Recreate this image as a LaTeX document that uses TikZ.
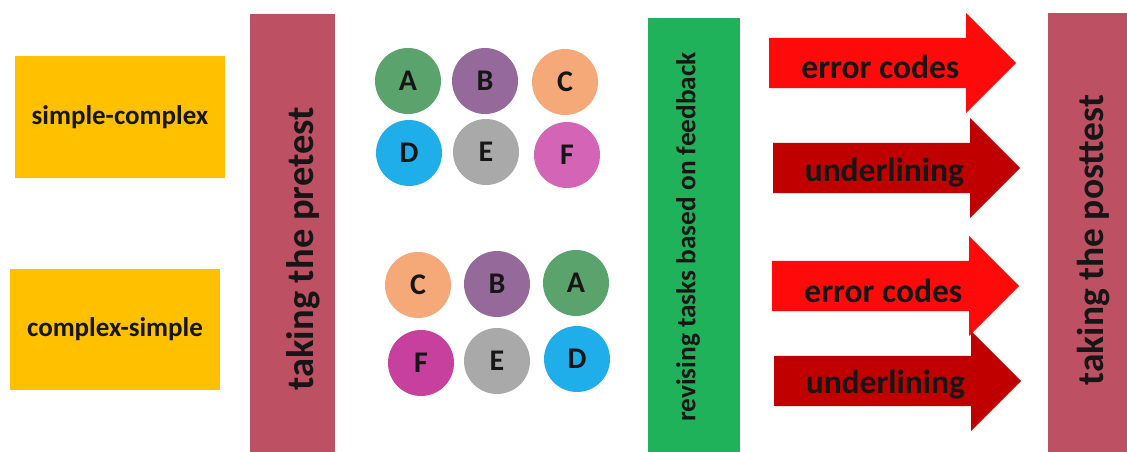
\documentclass[tikz,border=0pt]{standalone}
\usepackage{fontspec}
\setmainfont{Carlito}
\usetikzlibrary{shapes.arrows, calc}

\definecolor{grpyellow}{HTML}{FFC000}
\definecolor{testred}{HTML}{BD5163}
\definecolor{revgreen}{HTML}{1FB25A}
\definecolor{brightred}{HTML}{FF0A0A}
\definecolor{darkred}{HTML}{C00000}
\definecolor{cA}{HTML}{5BA36C}
\definecolor{cB}{HTML}{95699A}
\definecolor{cC}{HTML}{F5A878}
\definecolor{cD}{HTML}{1FAEEA}
\definecolor{cE}{HTML}{A9A9A9}
\definecolor{cFtop}{HTML}{D465B6}
\definecolor{cFbot}{HTML}{C7409D}
\definecolor{txt}{HTML}{161616}

\begin{document}
\begin{tikzpicture}[
        x=1pt, y=-1pt,
        grp/.style={rectangle, fill=grpyellow, minimum width=210pt,
                    minimum height=121pt, text=txt,
                    font=\fontsize{27}{30}\selectfont\bfseries},
        bar/.style={rectangle, anchor=north west, inner sep=0pt},
        vlbl/.style={rotate=90, text=txt, inner sep=0pt},
        ball/.style={circle, minimum size=66pt, inner sep=0pt, text=txt,
                     font=\fontsize{30}{33}\selectfont\bfseries},
        blockarr/.style={shape=single arrow, single arrow head extend=25pt,
                         inner xsep=0pt, inner ysep=25pt, anchor=tail},
        albl/.style={text=txt, inner sep=0pt,
                     font=\fontsize{33.5}{37}\selectfont\bfseries},
    ]
    \useasboundingbox (0,0) rectangle (1127,452);

    % groups
    \node[grp] (sc) at (120,117) {simple-complex};
    \node[grp] (cs) at (115,329.5) {complex-simple};

    % pretest
    \node[bar, fill=testred, minimum width=85pt, minimum height=438pt] (pre) at (250,14) {};
    \node[vlbl, font=\fontsize{38.5}{42}\selectfont\bfseries] (preL) at (303,249) {taking the pretest};

    % tasks, first order
    \node[ball, fill=cA] (tA) at (408,81) {A};
    \node[ball, fill=cB] (tB) at (485,81) {B};
    \node[ball, fill=cC] (tC) at (565,82) {C};
    \node[ball, fill=cD] (tD) at (409,153) {D};
    \node[ball, fill=cE] (tE) at (486,152) {E};
    \node[ball, fill=cFtop] (tF) at (567,155) {F};

    % tasks, second order
    \node[ball, fill=cC] (bC) at (418,285) {C};
    \node[ball, fill=cB] (bB) at (497,284) {B};
    \node[ball, fill=cA] (bA) at (576,283) {A};
    \node[ball, fill=cFbot] (bF) at (421,363) {F};
    \node[ball, fill=cE] (bE) at (497,361) {E};
    \node[ball, fill=cD] (bD) at (577,359) {D};

    % revising
    \node[bar, fill=revgreen, minimum width=92pt, minimum height=434pt] (rev) at (648,18) {};
    \node[vlbl, font=\fontsize{27.3}{30}\selectfont\bfseries] (revL) at (688,237) {revising tasks based on feedback};

    % feedback types
    \node[blockarr, fill=brightred, minimum height=247pt] (ec1) at (769,63) {};
    \node[blockarr, fill=darkred, minimum height=247pt] (ul1) at (773,168) {};
    \node[blockarr, fill=brightred, minimum height=247pt] (ec2) at (772,286) {};
    \node[blockarr, fill=darkred, minimum height=247pt] (ul2) at (774,381) {};
    \node[albl] (ec1L) at ($(ec1.tail)!0.45!(ec1.tip)+(0,4)$) {error codes};
    \node[albl] (ul1L) at ($(ul1.tail)!0.45!(ul1.tip)+(0,5)$) {underlining};
    \node[albl] (ec2L) at ($(ec2.tail)!0.45!(ec2.tip)+(0,5)$) {error codes};
    \node[albl] (ul2L) at ($(ul2.tail)!0.45!(ul2.tip)+(0,4)$) {underlining};

    % posttest
    \node[bar, fill=testred, minimum width=79pt, minimum height=439pt] (post) at (1048,13) {};
    \node[vlbl, font=\fontsize{37.5}{41}\selectfont\bfseries] (postL) at (1094,240) {taking the posttest};
\end{tikzpicture}
\end{document}
